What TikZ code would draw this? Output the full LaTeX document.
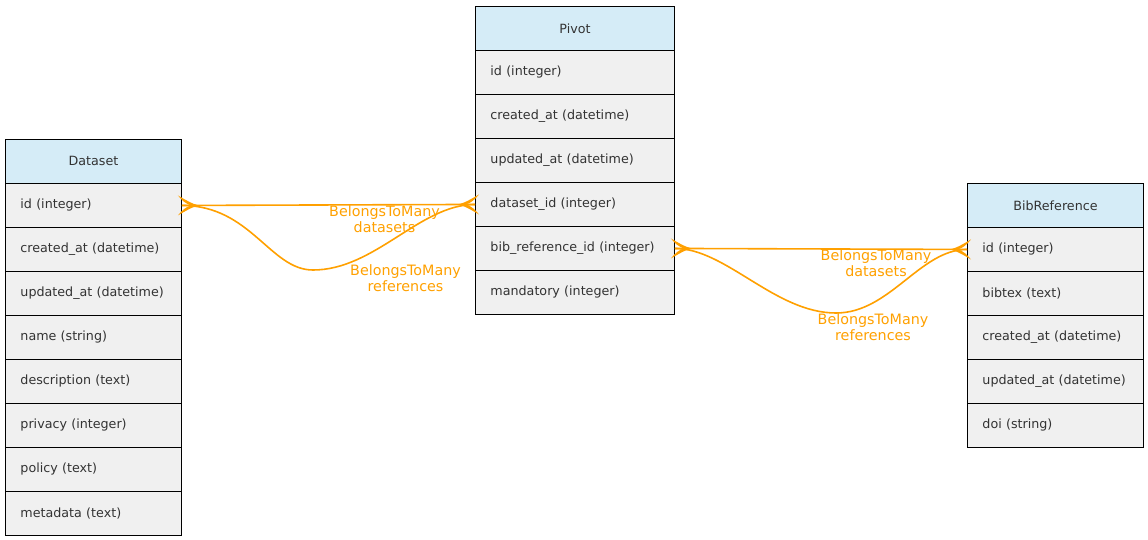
\documentclass[tikz,border=0pt]{standalone}
\usepackage{fontspec}
\setmainfont{DejaVu Sans}
\usetikzlibrary{calc}
\definecolor{hdr}{HTML}{D5ECF7}
\definecolor{rowc}{HTML}{F0F0F0}
\definecolor{txt}{HTML}{333333}
\definecolor{edgec}{HTML}{FFA000}
\begin{document}
\begin{tikzpicture}[x=1pt,y=-1pt,
  cell/.style={draw=black,line width=0.9pt,anchor=north west,minimum height=44pt,
    inner xsep=15pt,inner ysep=0pt,text=txt,font=\fontsize{12.7}{15}\selectfont},
  hcell/.style={cell,fill=hdr,align=center},
  rcell/.style={cell,fill=rowc,align=left},
  elabel/.style={text=edgec,align=center,font=\fontsize{14.3}{16}\selectfont,inner sep=0pt},
  rel/.style={draw=edgec,line width=1.6pt},
  crow/.pic={
    \fill[edgec] (17,0) .. controls (10,-1.5) and (3,-6) .. (-4,-10)
      .. controls (0,-5) and (4,-1.5) .. (9,0)
      .. controls (4,1.5) and (0,5) .. (-4,10)
      .. controls (3,6) and (10,1.5) .. (17,0) -- cycle;
  }
]
\useasboundingbox (0,0) rectangle (1148,540);
% Dataset
\node[hcell,text width=146pt] (d0) at (5,139) {Dataset};
\node[rcell,text width=146pt] (d1) at (5,183) {id (integer)};
\node[rcell,text width=146pt] (d2) at (5,227) {created\_at (datetime)};
\node[rcell,text width=146pt] (d3) at (5,271) {updated\_at (datetime)};
\node[rcell,text width=146pt] (d4) at (5,315) {name (string)};
\node[rcell,text width=146pt] (d5) at (5,359) {description (text)};
\node[rcell,text width=146pt] (d6) at (5,403) {privacy (integer)};
\node[rcell,text width=146pt] (d7) at (5,447) {policy (text)};
\node[rcell,text width=146pt] (d8) at (5,491) {metadata (text)};
% Pivot
\node[hcell,text width=169pt] (p0) at (475,6) {Pivot};
\node[rcell,text width=169pt] (p1) at (475,50) {id (integer)};
\node[rcell,text width=169pt] (p2) at (475,94) {created\_at (datetime)};
\node[rcell,text width=169pt] (p3) at (475,138) {updated\_at (datetime)};
\node[rcell,text width=169pt] (p4) at (475,182) {dataset\_id (integer)};
\node[rcell,text width=169pt] (p5) at (475,226) {bib\_reference\_id (integer)};
\node[rcell,text width=169pt] (p6) at (475,270) {mandatory (integer)};
% BibReference
\node[hcell,text width=146pt] (b0) at (967,183) {BibReference};
\node[rcell,text width=146pt] (b1) at (967,227) {id (integer)};
\node[rcell,text width=146pt] (b2) at (967,271) {bibtex (text)};
\node[rcell,text width=146pt] (b3) at (967,315) {created\_at (datetime)};
\node[rcell,text width=146pt] (b4) at (967,359) {updated\_at (datetime)};
\node[rcell,text width=146pt] (b5) at (967,403) {doi (string)};
% edges
\coordinate (m1) at (313,270);
\coordinate (m2) at (836,313);
\draw[rel] (d1.east) -- (p4.west);
\draw[rel] (d1.east) .. controls +(69,0) and +(-43,0) .. (m1) .. controls +(62,0) and +(-55,0) .. (p4.west);
\draw[rel] (p5.east) -- (b1.west);
\draw[rel] (p5.east) .. controls +(51,0) and +(-61,0) .. (m2) .. controls +(54,0) and +(-47,0) .. (b1.west);
\pic at (d1.east) {crow};
\pic[xscale=-1] at (p4.west) {crow};
\pic at (p5.east) {crow};
\pic[xscale=-1] at (b1.west) {crow};
\node[elabel] (l1) at (384.5,219) {BelongsToMany\\datasets};
\node[elabel] (l2) at (405.5,278) {BelongsToMany\\references};
\node[elabel] (l3) at (876,263) {BelongsToMany\\datasets};
\node[elabel] (l4) at (873,327) {BelongsToMany\\references};
\end{tikzpicture}
\end{document}
